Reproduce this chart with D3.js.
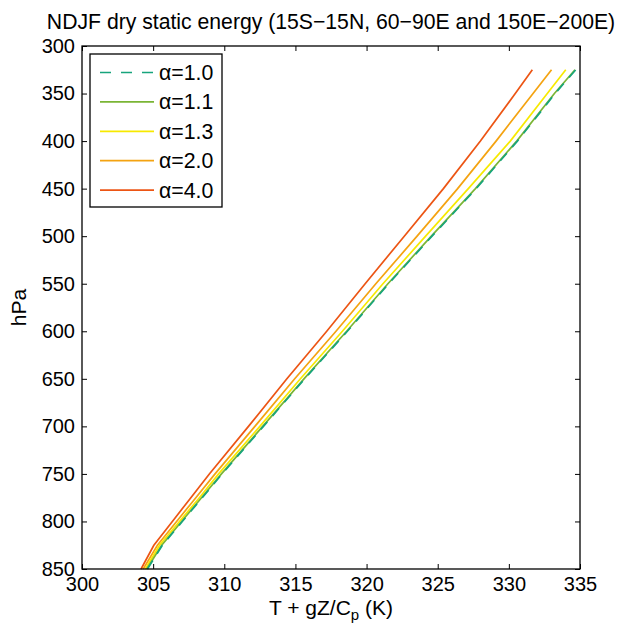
<!DOCTYPE html>
<html>
<head>
<meta charset="utf-8">
<script src="https://cdn.jsdelivr.net/npm/d3@7"></script>
<style>
  body { margin: 0; background: #fff; }
  svg { display: block; font-family: "Liberation Sans", Arial, Helvetica, sans-serif; }
</style>
</head>
<body>
<div id="chart"></div>
<script>
// pressure levels (hPa)
const levels = [850, 825, 800, 775, 750, 700, 650, 600, 550, 500, 450, 400, 350, 325];

// T + gZ/Cp (K) for each alpha
const alpha10 = [304.6, 305.65, 307.05, 308.45, 309.85, 312.75, 315.65, 318.65, 321.55, 324.6, 327.7, 330.6, 333.25, 334.7];
const alpha11 = [304.55, 305.6, 307.0, 308.4, 309.8, 312.7, 315.6, 318.6, 321.5, 324.55, 327.65, 330.55, 333.2, 334.65];
const alpha13 = [304.45, 305.45, 306.85, 308.25, 309.6, 312.5, 315.35, 318.3, 321.15, 324.15, 327.15, 330.1, 332.7, 334.0];
const alpha20 = [304.3, 305.3, 306.65, 308.0, 309.35, 312.15, 314.95, 317.85, 320.65, 323.55, 326.4, 329.1, 331.7, 333.0];
const alpha40 = [304.15, 305.05, 306.35, 307.65, 308.95, 311.7, 314.4, 317.2, 319.9, 322.65, 325.4, 328.0, 330.45, 331.65];

const seriesNames = ["\u03b1=1.0", "\u03b1=1.1", "\u03b1=1.3", "\u03b1=2.0", "\u03b1=4.0"];
const seriesColors = ["#17a47c", "#7ab535", "#f7e900", "#f4a311", "#ec5514"];

const xTicks = [300, 305, 310, 315, 320, 325, 330, 335];
const yTicks = [300, 350, 400, 450, 500, 550, 600, 650, 700, 750, 800, 850];

const series = [alpha10, alpha11, alpha13, alpha20, alpha40].map((vals, i) => ({
    name: seriesNames[i],
    color: seriesColors[i],
    dashed: i === 0,
    points: vals.map((v, j) => ({ x: v, p: levels[j] }))
}));

const width = 618, height = 623;
const margin = { left: 82, right: 38, top: 46, bottom: 54 };

const svg = d3.select("#chart").append("svg")
    .attr("width", width)
    .attr("height", height);

const x = d3.scaleLinear().domain([300, 335]).range([margin.left, width - margin.right]);
const y = d3.scaleLinear().domain([300, 850]).range([margin.top, height - margin.bottom]);

const tickLen = 5;

// lines
const line = d3.line().x(d => x(d.x)).y(d => y(d.p));
// draw back to front so red sits over
svg.append("g").selectAll("path")
    .data(series.slice().reverse())
    .enter()
    .append("path")
    .attr("d", d => line(d.points))
    .attr("fill", "none")
    .attr("stroke", d => d.color)
    .attr("stroke-width", 1.7)
    .attr("stroke-dasharray", d => d.dashed ? "10,8" : null);

// axes (ticks inside, mirrored)
const axisBottom = d3.axisBottom(x).tickValues(xTicks).tickSize(-tickLen).tickPadding(8);
const axisTop = d3.axisTop(x).tickValues(xTicks).tickSize(-tickLen).tickFormat("");
const axisLeft = d3.axisLeft(y).tickValues(yTicks).tickSize(-tickLen).tickPadding(7);
const axisRight = d3.axisRight(y).tickValues(yTicks).tickSize(-tickLen).tickFormat("");

const gB = svg.append("g").attr("transform", `translate(0,${y(850)})`).call(axisBottom);
const gT = svg.append("g").attr("transform", `translate(0,${y(300)})`).call(axisTop);
const gL = svg.append("g").attr("transform", `translate(${x(300)},0)`).call(axisLeft);
const gR = svg.append("g").attr("transform", `translate(${x(335)},0)`).call(axisRight);

[gB, gT, gL, gR].forEach(g => {
    g.select(".domain").remove();
    g.selectAll(".tick line").attr("stroke", "#000").attr("stroke-width", 1);
    g.selectAll("text").attr("font-size", 20).attr("fill", "#000")
        .attr("font-family", "'Liberation Sans', Arial, sans-serif");
});

// frame
svg.append("rect")
    .attr("x", x(300)).attr("y", y(300))
    .attr("width", x(335) - x(300)).attr("height", y(850) - y(300))
    .attr("fill", "none").attr("stroke", "#000").attr("stroke-width", 1.3);

// title
svg.append("text")
    .attr("x", (x(300) + x(335)) / 2)
    .attr("y", 29)
    .attr("text-anchor", "middle")
    .attr("font-size", 21.2)
    .text("NDJF dry static energy (15S\u221215N, 60\u221290E and 150E\u2212200E)");

// x label
const xl = svg.append("text")
    .attr("x", (x(300) + x(335)) / 2)
    .attr("y", 615)
    .attr("text-anchor", "middle")
    .attr("font-size", 21);
xl.append("tspan").text("T + gZ/C");
xl.append("tspan").attr("font-size", 15).attr("dy", 5).text("p");
xl.append("tspan").attr("dy", -5).text(" (K)");

// y label
svg.append("text")
    .attr("transform", `translate(26,${(y(300) + y(850)) / 2}) rotate(-90)`)
    .attr("text-anchor", "middle")
    .attr("font-size", 21)
    .text("hPa");

// legend
const legend = svg.append("g");
legend.append("rect")
    .attr("x", 90).attr("y", 54)
    .attr("width", 132).attr("height", 153)
    .attr("fill", "#fff").attr("stroke", "#000").attr("stroke-width", 1.3);

const rows = legend.selectAll("g.row")
    .data(series)
    .enter()
    .append("g")
    .attr("transform", (d, i) => `translate(0,${72.5 + i * 29.4})`);

rows.append("line")
    .attr("x1", 100).attr("x2", 154)
    .attr("stroke", d => d.color)
    .attr("stroke-width", 1.7)
    .attr("stroke-dasharray", d => d.dashed ? "11,10" : null);

rows.append("text")
    .attr("x", 159)
    .attr("dy", "0.35em")
    .attr("font-size", 21.3)
    .text(d => d.name);
</script>
</body>
</html>
